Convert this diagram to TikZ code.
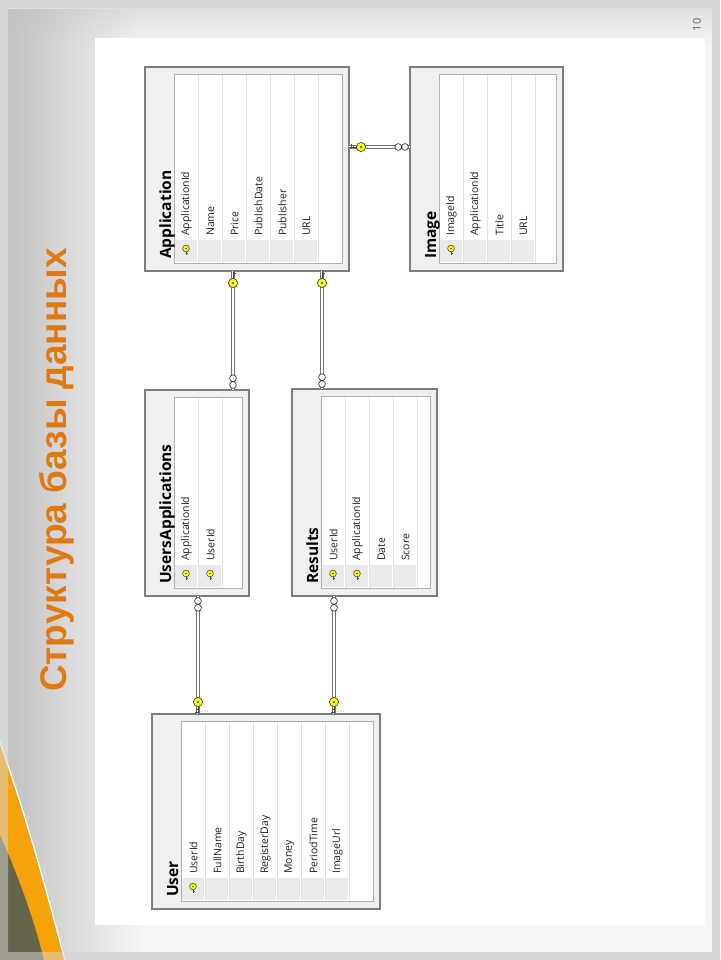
\documentclass[tikz,border=0pt]{standalone}
\usepackage{fontspec}
\setmainfont{Open Sans}
\newfontfamily\titlefont{Liberation Sans}
\usepackage{tikz}
\usetikzlibrary{positioning, calc, fadings}
\definecolor{titleorange}{RGB}{224,122,16}
\definecolor{swooshorange}{RGB}{245,163,10}
\definecolor{swoosholive}{RGB}{102,100,74}
\definecolor{framegray}{RGB}{214,214,214}
\definecolor{slidebg}{RGB}{246,246,246}
\definecolor{keyyellow}{RGB}{255,255,0}
\definecolor{boxgray}{RGB}{125,125,125}
\definecolor{headgray}{RGB}{240,240,240}
\definecolor{cellgray}{RGB}{234,234,234}
\definecolor{linegray}{RGB}{226,226,226}
\definecolor{fieldtext}{RGB}{40,30,35}

\tikzset{
	tablebox/.style={draw=boxgray, fill=headgray, line width=1.2pt, inner sep=0pt, outer sep=0pt, anchor=north west},
	rel/.style={draw=black!55, double=white, double distance=1.4pt, line width=1pt},
	fieldname/.style={rotate=90, anchor=west, inner sep=0pt, text=fieldtext, font=\fontsize{10.5}{12}\selectfont},
	tabletitle/.style={rotate=90, anchor=base west, inner sep=0pt, font=\fontsize{15.5}{17}\selectfont\bfseries},
	pics/fkey/.style={code={
		\draw[black!70, line width=0.8pt] (0,0) -- (0,8) (0,2) -- (2.8,2) (0,4.5) -- (2.3,4.5);
		\filldraw[fill=keyyellow, draw=black!70, line width=0.7pt] (0,12) circle (4.6);
		\fill[black!75] (0,12) circle (1.1);
	}},
	pics/many/.style={code={
		\filldraw[fill=white, draw=black!75, line width=0.7pt] (0,5) circle (3.4) (0,11.8) circle (3.4);
	}},
	pics/rowkey/.style={code={
		\draw[black!70, line width=0.7pt] (0,0) -- (0,5) (0,3.5) -- (2,3.5);
		\filldraw[fill=keyyellow, draw=black!70, line width=0.6pt] (0,-1.5) circle (3.4);
		\fill[black!70] (0,-1.5) circle (0.8);
	}},
}

% table: name, x0, y0, x1, y1, title, number of keys, fields
\newcommand{\erdtable}[8]{%
	\node[tablebox, minimum width={(#4-#2)*1pt}, minimum height={(#5-#3)*1pt}] (#1) at (#2,#3) {};
	\fill[white] (#2+29,#3+7) rectangle (#4-7,#5-8);
	\foreach \fld [count=\i] in {#8} {
		\pgfmathsetmacro{\xa}{#2+29+(\i-1)*24}
		\fill[cellgray] (\xa+1,#5-31) rectangle (\xa+23,#5-9);
		\draw[linegray] (\xa+24,#3+7) -- (\xa+24,#5-8);
		\node[fieldname] at (\xa+12.5,#5-35) {\fld};
		\ifnum\i>#7\else \pic at (\xa+12,#5-21) {rowkey}; \fi
	}
	\draw[boxgray!60, line width=0.6pt] (#2+29,#3+7) rectangle (#4-7,#5-8);
	\node[tabletitle] at (#2+26,#5-12) {#6};
}

\begin{document}
\begin{tikzpicture}[x=1pt, y=-1pt]
	\useasboundingbox (0,0) rectangle (720,960);
	% slide background
	\fill[framegray] (0,0) rectangle (720,960);
	\fill[slidebg] (8,8) rectangle (712,952);
	\fill[black!12, path fading=south] (8,8) rectangle (712,45);
	\fill[black!24, path fading=east] (8,8) rectangle (140,952);
	\fill[white] (95,38) rectangle (705,925);
	\fill[swooshorange] (0,745) .. controls (30,830) and (48,900) .. (64,960) -- (0,960) -- cycle;
	\fill[swoosholive] (0,835) .. controls (20,880) and (34,920) .. (44,960) -- (0,960) -- cycle;
	\draw[white, line width=1.2pt] (0,742) .. controls (30,827) and (48,897) .. (65,960);
	\fill[framegray, opacity=0.5] (0,952) rectangle (720,960) (0,0) rectangle (8,952);

	\node[rotate=90, text=titleorange, font=\titlefont\fontsize{37}{40}\selectfont\bfseries] (title) at (57,470) {Структура базы данных};
	\node[rotate=90, text=black!60, font=\fontsize{11}{12}\selectfont] (pagenum) at (697,25) {10};

	% tables
	\erdtable{application}{145}{67}{349}{271}{Application}{1}{ApplicationId,Name,Price,PublishDate,Publisher,URL}
	\erdtable{image}{410}{67}{563}{271}{Image}{1}{ImageId,ApplicationId,Title,URL}
	\erdtable{usersapp}{145}{390}{249}{596}{UsersApplications}{2}{ApplicationId,UserId}
	\erdtable{results}{292}{389}{437}{596}{Results}{2}{UserId,ApplicationId,Date,Score}
	\erdtable{user}{152}{714}{380}{909}{User}{1}{UserId,FullName,BirthDay,RegisterDay,Money,PeriodTime,ImageUrl}

	% relations
	\draw[rel] (349,147 -| application.east) -- (349,147 -| image.west);
	\pic[rotate=90] at (349,147 -| application.east) {fkey};
	\pic[rotate=-90] at (349,147 -| image.west) {many};

	\draw[rel] (233,0 |- application.south) -- (233,0 |- usersapp.north);
	\pic at (233,0 |- application.south) {fkey};
	\pic[rotate=180] at (233,0 |- usersapp.north) {many};

	\draw[rel] (322,0 |- application.south) -- (322,0 |- results.north);
	\pic at (322,0 |- application.south) {fkey};
	\pic[rotate=180] at (322,0 |- results.north) {many};

	\draw[rel] (198,0 |- usersapp.south) -- (198,0 |- user.north);
	\pic at (198,0 |- usersapp.south) {many};
	\pic[rotate=180] at (198,0 |- user.north) {fkey};

	\draw[rel] (334,0 |- results.south) -- (334,0 |- user.north);
	\pic at (334,0 |- results.south) {many};
	\pic[rotate=180] at (334,0 |- user.north) {fkey};
\end{tikzpicture}
\end{document}
